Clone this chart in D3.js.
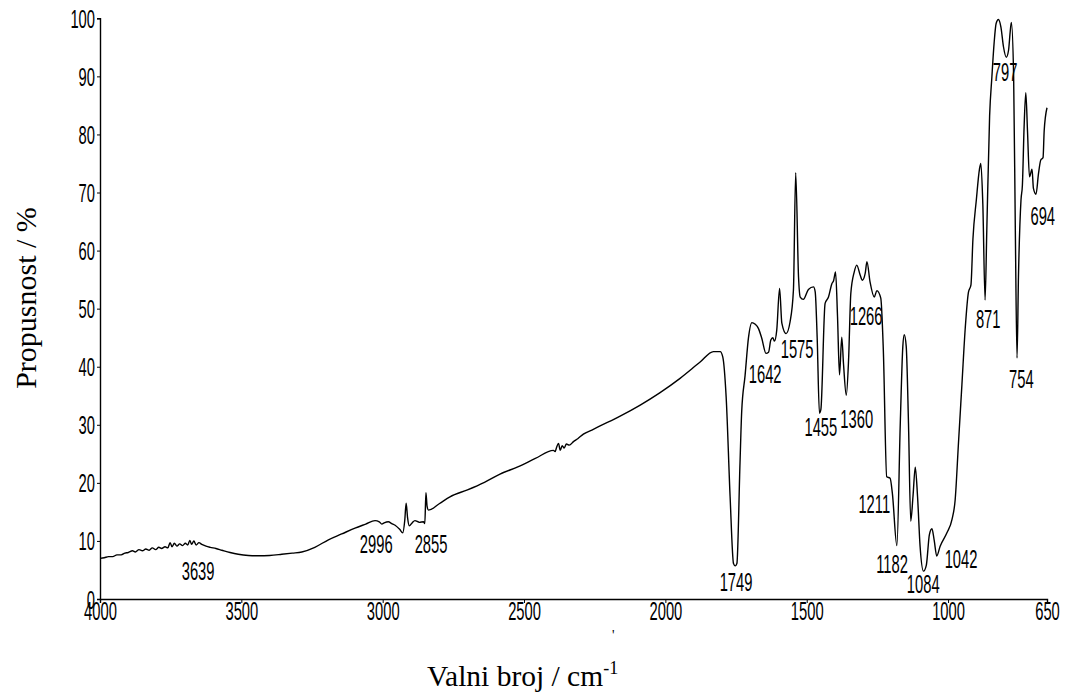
<!DOCTYPE html>
<html>
<head>
<meta charset="utf-8">
<script src="https://cdn.jsdelivr.net/npm/d3@7"></script>
<style>
  html, body { margin: 0; padding: 0; background: #fff; }
  svg { display: block; }
</style>
</head>
<body>
<svg id="chart" width="1068" height="696"></svg>
<script>
// Wavenumbers (cm-1) and transmittance (%)
const wavenumbers = [
  4000, 3985, 3970, 3955, 3940, 3925, 3912, 3900, 3885, 3875, 3862, 3850, 3838, 3826, 3815, 3803,
  3792, 3782, 3770, 3760, 3752, 3745, 3737, 3728, 3718, 3708, 3698, 3690, 3682, 3676, 3668, 3660,
  3650, 3640, 3625, 3610, 3590, 3569, 3540, 3511, 3475, 3440, 3400, 3357, 3320, 3286, 3240, 3192,
  3145, 3098, 3060, 3027, 3012, 3003, 2995, 2980, 2968, 2956, 2940, 2929, 2922, 2917, 2912, 2906,
  2896, 2886, 2870, 2856, 2851, 2847, 2843, 2838, 2800, 2762, 2700, 2640, 2585, 2520, 2460, 2396,
  2390, 2385, 2378, 2372, 2365, 2358, 2350, 2340, 2325, 2310, 2290, 2260, 2231, 2160, 2089, 2020,
  1948, 1877, 1830, 1806, 1797, 1785, 1771, 1759, 1753, 1747, 1736, 1730, 1718, 1706, 1694, 1682,
  1671, 1659, 1644, 1635, 1627, 1620, 1614, 1606, 1596, 1588, 1573, 1559, 1547, 1539, 1529, 1523,
  1512, 1494, 1476, 1470, 1463, 1455, 1450, 1435, 1423, 1411, 1405, 1398, 1391, 1384, 1376, 1370,
  1360, 1352, 1344, 1332, 1323, 1311, 1303, 1293, 1287, 1276, 1261, 1252, 1238, 1229, 1217, 1205,
  1197, 1181, 1169, 1160, 1155, 1148, 1140, 1132, 1124, 1116, 1108, 1099, 1087, 1077, 1066, 1057,
  1049, 1040, 1028, 1004, 986, 975, 963, 951, 939, 928, 919, 912, 900, 889, 884, 877,
  869, 863, 853, 845, 837, 830, 822, 813, 804, 794, 786, 780, 776, 768, 762, 756,
  751, 742, 737, 731, 725, 719, 712, 703, 698, 689, 680, 672, 664, 660, 650
];
const transmittance = [
  7.0, 7.1, 7.3, 7.3, 7.6, 7.6, 7.9, 8.0, 8.3, 8.1, 8.5, 8.3, 8.6, 8.4, 8.8, 8.5,
  8.9, 8.7, 9.0, 8.8, 9.7, 9.0, 9.6, 9.1, 9.5, 9.2, 9.6, 9.3, 10.1, 9.4, 10.0, 9.3,
  9.7, 9.4, 9.1, 8.9, 8.7, 8.4, 8.0, 7.7, 7.5, 7.45, 7.5, 7.7, 7.9, 8.1, 8.9, 10.2,
  11.2, 12.2, 12.9, 13.5, 13.3, 12.9, 13.1, 13.3, 13.0, 12.7, 12.0, 11.4, 13.5, 16.5, 14.0, 12.6,
  13.1, 13.5, 13.2, 13.3, 13.0, 18.3, 16.0, 15.3, 16.4, 17.6, 18.8, 20.1, 21.5, 22.8, 24.2, 25.6,
  25.4, 26.1, 26.8, 25.6, 26.4, 26.0, 26.7, 26.5, 27.1, 27.6, 28.4, 29.1, 29.8, 31.5, 33.4, 35.5,
  38.0, 40.8, 42.6, 42.6, 41.7, 34.8, 17.6, 6.1, 5.7, 6.1, 23.4, 32.3, 38.5, 45.0, 47.6, 47.3,
  46.6, 44.9, 42.3, 42.5, 44.6, 45.0, 44.4, 46.3, 53.5, 47.5, 45.7, 47.7, 53.2, 73.4, 55.5, 52.0,
  51.6, 53.3, 53.75, 52.9, 45.0, 32.0, 32.6, 50.9, 52.0, 54.3, 54.8, 56.3, 48.6, 38.6, 45.1, 40.6,
  35.1, 41.1, 52.6, 56.3, 57.5, 55.8, 54.9, 56.1, 58.1, 54.6, 52.0, 53.1, 51.8, 42.9, 21.05, 20.8,
  18.2, 9.2, 30.3, 43.5, 45.5, 43.5, 30.3, 13.4, 17.7, 22.7, 17.7, 9.1, 4.8, 5.8, 11.1, 12.1,
  10.1, 7.4, 9.1, 11.4, 13.7, 17.0, 27.0, 36.9, 46.8, 52.8, 54.1, 62.0, 68.7, 74.0, 75.0, 68.0,
  51.5, 63.4, 83.2, 89.9, 95.8, 99.1, 99.8, 98.5, 95.1, 93.3, 94.5, 97.8, 99.3, 89.9, 63.4, 41.5,
  55.4, 68.7, 71.3, 81.3, 87.2, 80.6, 72.7, 74.0, 70.7, 69.7, 73.3, 75.6, 76.0, 80.6, 84.6
];

// Peak annotations: text, and the anchor point (wavenumber, % at text baseline)
const peakLabels = ["3639", "2996", "2855", "1749", "1642", "1575", "1455", "1360", "1266", "1211", "1182", "1084", "1042", "871", "797", "754", "694"];
const peakLabelWn = [3653, 3023, 2829, 1750, 1647, 1534, 1450, 1323, 1290, 1261, 1198, 1088, 954, 858, 798, 741, 665];
const peakLabelT  = [3.3, 7.9, 7.9, 1.4, 37.2, 41.5, 28.0, 29.4, 47.2, 14.8, 4.5, 1.0, 5.3, 46.6, 89.2, 36.3, 64.4];

// Axis ticks
const xTicks = [4000, 3500, 3000, 2500, 2000, 1500, 1000, 650];
const yTicks = [0, 10, 20, 30, 40, 50, 60, 70, 80, 90, 100];

const svg = d3.select("#chart");
const x = d3.scaleLinear().domain([4000, 650]).range([100, 1047]);
const y = d3.scaleLinear().domain([0, 100]).range([599, 18.3]);

const numFont = '"Liberation Sans", Arial, sans-serif';
const serifFont = '"Liberation Serif", "Times New Roman", serif';
const sx = 0.59;

// Spectrum line
const data = wavenumbers.map((w, i) => [w, transmittance[i]]);
svg.append("path")
  .datum(data)
  .attr("fill", "none")
  .attr("stroke", "#000")
  .attr("stroke-width", 1.4)
  .attr("stroke-linejoin", "round")
  .attr("d", d3.line().x(d => x(d[0])).y(d => y(d[1])).curve(d3.curveMonotoneX));

// Axes
const xAxis = svg.append("g")
  .attr("transform", "translate(0,599)")
  .call(d3.axisBottom(x).tickValues(xTicks).tickSize(4).tickFormat(d3.format("d")));
const yAxis = svg.append("g")
  .attr("transform", "translate(100,0)")
  .call(d3.axisLeft(y).tickValues(yTicks).tickSize(3).tickFormat(d3.format("d")));

[xAxis, yAxis].forEach(g => {
  g.select(".domain").attr("stroke", "#000").attr("stroke-width", 1.4);
  g.selectAll(".tick line").attr("stroke", "#000").attr("stroke-width", 1);
  g.selectAll("text")
    .attr("fill", "#000")
    .style("font-family", numFont)
    .style("font-size", "25px");
});
xAxis.selectAll("text")
  .attr("y", 21).attr("dy", 0)
  .attr("transform", `scale(${sx},1)`);
yAxis.selectAll("text")
  .attr("x", -5 / sx).attr("dy", "0.36em")
  .attr("transform", `scale(${sx},1)`);

// Peak labels
svg.append("g").selectAll("text")
  .data(peakLabels)
  .join("text")
  .attr("transform", (d, i) => `translate(${x(peakLabelWn[i])},${y(peakLabelT[i])}) scale(${sx},1)`)
  .attr("text-anchor", "middle")
  .attr("fill", "#000")
  .style("font-family", numFont)
  .style("font-size", "25px")
  .text(d => d);

// Axis titles
svg.append("text")
  .attr("transform", "translate(36,298) rotate(-90)")
  .attr("text-anchor", "middle")
  .style("font-family", serifFont)
  .style("font-size", "30px")
  .text("Propusnost / %");

const xt = svg.append("text")
  .attr("x", 427).attr("y", 686)
  .style("font-family", serifFont)
  .style("font-size", "29.5px");
xt.append("tspan").text("Valni broj / cm");
xt.append("tspan").attr("dy", -12).style("font-size", "18px").text("-1");

// stray mark under axis
svg.append("text")
  .attr("x", 612).attr("y", 640)
  .style("font-family", serifFont)
  .style("font-size", "14px")
  .text("'");
</script>
</body>
</html>
